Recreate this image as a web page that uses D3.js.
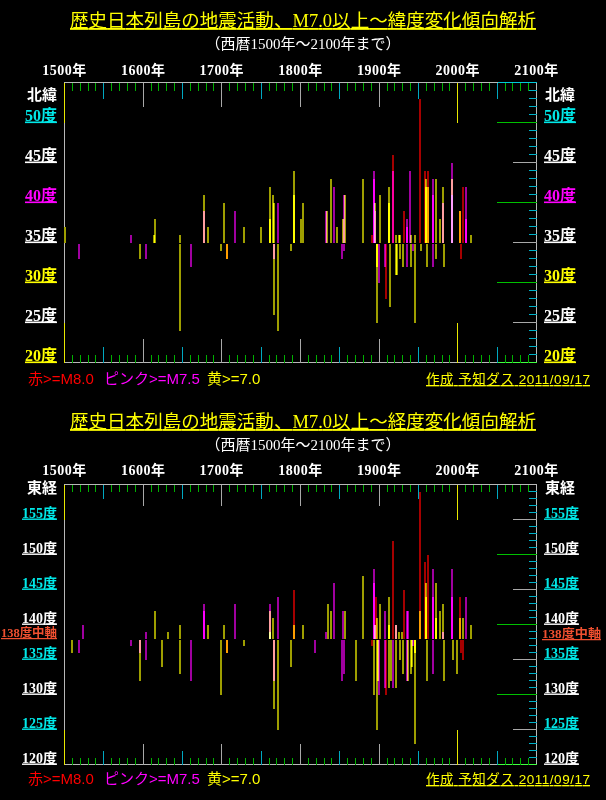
<!DOCTYPE html>
<html><head><meta charset="utf-8">
<script src="https://cdn.jsdelivr.net/npm/d3@7"></script>
<style>
html,body{margin:0;padding:0;background:#000;}
svg{display:block;}
.bar{mix-blend-mode:plus-lighter;}
</style></head>
<body>
<svg id="c" width="606" height="800"></svg>
<script>
// ---------- DATA ----------
const yearTicks = [1500, 1600, 1700, 1800, 1900, 2000, 2100];
const latTickLabels = [50, 45, 40, 35, 30, 25, 20];
const lonTickLabels = [155, 150, 145, 140, 135, 130, 125, 120];

// Panel 1: latitude of M7.0+ quakes (bar from 35 deg to latitude)
const latYears = [1501,1519,1585,1596,1604,1614,1615,1647,1647,1661,1677,1677,1682,1699,1703,1706,1706,1717,1728,1750,
  1761,1761,1765,1766,1766,1766,1771,1771,1788,1792,1792,1792,1801,1803,1833,1834,1839,1843,1847,1853,
  1854,1855,1855,1856,1880,1891,1893,1893,1895,1895,1897,1897,1900,1901,1908,1909,1913,1913,1914,1918,
  1918,1921,1921,1923,1925,1926,1926,1930,1932,1935,1936,1936,1939,1940,1941,1943,1945,1946,1952,1953,
  1958,1960,1960,1961,1962,1962,1968,1968,1968,1968,1972,1972,1977,1981,1981,1983,1993,1993,1993,2003,
  2003,2004,2006,2011,2011,2017];
const latValues = [37,33,36,33,33,36,38,36,24,32,41,39,37,34,40,33,33,39,37,37,
  42,38,41,40,26,33,24,40,34,44,41,39,38,40,39,39,43,42,37,33,
  38,41,34,41,43,36,44,43,39,40,25,32,30,41,32,28,42,40,27,46,
  44,36,31,31,36,36,33,32,39,38,37,32,44,32,36,34,25,36,53,34,
  44,43,42,32,44,42,38,32,41,43,43,33,38,42,40,32,45,43,41,39,
  39,33,42,42,38,36];
const latMags = [7.0,7.5,7.5,7.0,7.5,7.0,7.0,7.0,7.0,7.5,7.0,7.5,7.0,7.0,7.0,8.0,7.0,7.5,7.0,7.0,
  7.0,7.0,7.0,7.0,7.0,7.5,7.0,7.5,7.0,7.0,7.0,8.0,7.0,7.0,7.5,7.0,7.0,7.5,7.0,7.5,
  7.0,7.5,7.5,7.0,7.0,8.0,7.5,7.5,7.5,7.0,7.0,7.0,7.5,7.0,7.5,8.0,7.0,7.0,7.0,8.0,
  7.5,7.0,7.0,7.0,7.0,7.0,7.0,7.0,8.0,7.5,7.5,7.5,7.5,7.0,7.0,7.5,7.0,7.0,8.0,7.0,
  8.0,7.0,7.0,7.0,8.0,7.0,7.5,7.5,7.5,7.5,7.0,7.0,7.0,7.0,7.5,7.0,7.5,7.0,7.5,8.0,
  7.0,8.0,8.0,7.5,7.5,7.0];

// Panel 2: longitude of M7.0+ quakes (bar from 138 deg to longitude)
const lonYears = [1509,1519,1524,1585,1596,1596,1604,1604,1615,1624,1632,1647,1647,1661,1677,1677,1682,1699,1703,1706,
  1706,1717,1728,1761,1761,1761,1765,1766,1766,1771,1771,1788,1792,1792,1803,1818,1833,1835,1839,1843,
  1853,1854,1855,1856,1871,1880,1891,1893,1893,1894,1895,1895,1896,1897,1897,1899,1900,1901,1908,1908,
  1909,1913,1913,1913,1915,1918,1918,1921,1922,1922,1925,1926,1929,1930,1932,1935,1935,1937,1937,1940,
  1942,1943,1945,1945,1946,1952,1952,1958,1960,1960,1961,1962,1968,1968,1968,1972,1972,1977,1981,1981,
  1983,1993,1993,1994,1999,2003,2003,2004,2006,2006,2011,2017];
const lonValues = [136,136,140,137,136,132,139,135,142,134,139,140,133,132,143,142,140,130,140,136,
  136,143,137,143,142,139,141,128,132,125,144,134,145,140,140,136,139,143,142,146,
  132,142,133,142,132,147,137,148,146,130,140,140,144,125,141,132,130,143,142,131,
  130,140,144,131,132,152,131,140,140,131,139,135,139,133,145,142,132,142,132,133,
  134,137,123,136,136,159,142,149,146,144,132,150,133,144,148,141,146,142,143,139,
  132,148,144,135,133,141,144,136,135,141,144,140];
const lonMags = [7.0,7.5,7.5,7.5,7.5,7.0,7.5,7.5,7.0,7.0,7.0,7.0,7.0,7.5,7.5,7.5,7.0,7.0,7.0,8.0,
  7.0,7.5,7.0,7.5,7.0,7.0,7.0,7.0,7.5,7.0,7.5,7.0,8.0,7.0,7.0,7.5,7.5,7.0,7.0,7.5,
  7.5,7.5,7.5,7.0,7.0,7.0,8.0,7.5,7.5,7.0,7.5,7.0,8.0,7.0,7.0,7.0,7.5,7.0,7.5,7.5,
  8.0,7.0,7.0,7.0,7.0,8.0,7.5,7.5,7.0,7.0,7.0,7.0,7.0,7.0,8.0,7.5,7.5,7.5,7.0,7.0,
  7.0,7.5,7.0,7.0,7.0,8.0,7.0,8.0,7.0,7.0,7.0,8.0,7.5,7.5,7.5,7.0,7.0,7.0,7.0,7.5,
  7.0,7.5,7.5,7.0,7.0,7.0,8.0,8.0,8.0,7.0,7.5,7.0];

// ---------- DRAW ----------
const svg = d3.select("#c");
svg.append("rect").attr("width", 606).attr("height", 800).attr("fill", "#000");

const xs = d3.scaleLinear().domain([1500, 2100]).range([64.5, 536.5]);
const CJK = "'Liberation Serif','Noto Sans CJK JP',serif";
const SANS = "'Liberation Sans','Noto Sans CJK JP',sans-serif";
const magColor = m => m >= 8.0 ? "rgb(165,0,0)" : m >= 7.5 ? "rgb(160,0,160)" : "rgb(158,158,0)";

function drawPanel(p) {
  const g = svg.append("g");
  const ys = d3.scaleLinear().domain([p.lo, p.hi]).range([p.top + (p.hi - p.lo) * p.unit, p.top]);
  const bottom = ys(p.lo);

  // title & subtitle
  g.append("text").attr("x", 303).attr("y", p.titleY).attr("text-anchor", "middle")
    .attr("fill", "#ffff00").attr("font-family", CJK).attr("font-size", 18.5)
    .attr("textLength", 466).attr("lengthAdjust", "spacing")
    .style("text-decoration", "underline").text(p.title);
  g.append("text").attr("x", 303).attr("y", p.titleY + 22).attr("text-anchor", "middle")
    .attr("fill", "#ffffff").attr("font-family", CJK).attr("font-size", 15)
    .text("（西暦1500年～2100年まで）");

  // year labels
  g.selectAll(".yl").data(yearTicks).enter().append("text")
    .attr("x", d => xs(d)).attr("y", p.yearY).attr("text-anchor", "middle")
    .attr("fill", "#ffffff").attr("font-family", CJK).attr("font-size", 14).attr("font-weight", "bold")
    .attr("letter-spacing", 0.5)
    .text(d => d + "年");

  // frame
  g.append("rect").attr("x", 64.5).attr("y", p.top).attr("width", 472).attr("height", bottom - p.top)
    .attr("fill", "none").attr("stroke", "#b8b8b8").attr("shape-rendering", "crispEdges");
  if (p.topCyan) {
    g.append("line").attr("x1", Math.floor(xs(2050)) + 0.5).attr("x2", 536.5).attr("y1", p.top).attr("y2", p.top)
      .attr("stroke", "#00c8d8").attr("shape-rendering", "crispEdges");
  }
  g.append("line").attr("x1", Math.floor(xs(2050)) + 0.5).attr("x2", 536.5).attr("y1", bottom).attr("y2", bottom)
    .attr("stroke", "#40ff40").attr("stroke-width", 1.5).attr("shape-rendering", "crispEdges");

  // year ticks at top and bottom
  const decades = d3.range(1500, 2100, 10);
  const tk = yr => yr % 500 === 0 ? [5, "#e8e800"] : yr % 100 === 0 ? [3, "#a8a8a8"] : yr % 50 === 0 ? [2, "#00a8c0"] : [1, "#00b000"];
  decades.forEach(yr => {
    const [n, col] = tk(yr);
    const L = n * p.unit;
    const x = Math.floor(xs(yr)) + 0.5;
    g.append("line").attr("x1", x).attr("x2", x).attr("y1", p.top).attr("y2", p.top + L)
      .attr("stroke", col).attr("shape-rendering", "crispEdges");
    g.append("line").attr("x1", x).attr("x2", x).attr("y1", bottom - L).attr("y2", bottom)
      .attr("stroke", col).attr("shape-rendering", "crispEdges");
  });

  // degree ticks on the right edge
  const decUnit = xs(1510) - xs(1500);
  d3.range(p.lo + 1, p.hi).forEach(d => {
    const [n, col] = d % 10 === 0 ? [5, "#00c000"] : d % 5 === 0 ? [3, "#a8a8a8"] : [1, "#00b0c8"];
    const y = Math.floor(ys(d)) + 0.5;
    g.append("line").attr("x1", 536.5 - n * decUnit).attr("x2", 536.5).attr("y1", y).attr("y2", y)
      .attr("stroke", col).attr("stroke-width", n === 1 ? 1 : 1.5).attr("shape-rendering", "crispEdges");
  });

  // degree labels (left and right)
  const lab = g.selectAll(".dl").data(p.labels).enter();
  lab.append("text").attr("x", 57).attr("y", d => ys(d) - 2).attr("text-anchor", "end")
    .attr("fill", d => p.labelColor(d)).attr("font-family", CJK).attr("font-size", p.labelSize).attr("font-weight", "bold")
    .style("text-decoration", "underline").text(d => d + "度");
  lab.append("text").attr("x", 544).attr("y", d => ys(d) - 2).attr("text-anchor", "start")
    .attr("fill", d => p.labelColor(d)).attr("font-family", CJK).attr("font-size", p.labelSize).attr("font-weight", "bold")
    .style("text-decoration", "underline").text(d => d + "度");

  // axis name
  g.append("text").attr("x", 57).attr("y", p.nameY).attr("text-anchor", "end").attr("fill", "#fff")
    .attr("font-family", CJK).attr("font-size", 15).attr("font-weight", "bold").text(p.name);
  g.append("text").attr("x", 545).attr("y", p.nameY).attr("text-anchor", "start").attr("fill", "#fff")
    .attr("font-family", CJK).attr("font-size", 15).attr("font-weight", "bold").text(p.name);

  if (p.axisLabel) {
    g.append("text").attr("x", 1).attr("y", ys(p.base) - 1.5).attr("text-anchor", "start").attr("fill", "#f05030")
      .attr("font-family", CJK).attr("font-size", 12).attr("font-weight", "bold")
      .attr("textLength", 56).attr("lengthAdjust", "spacingAndGlyphs")
      .style("text-decoration", "underline").text(p.axisLabel);
    g.append("text").attr("x", 542).attr("y", ys(p.base) - 0.5).attr("text-anchor", "start").attr("fill", "#f05030")
      .attr("font-family", CJK).attr("font-size", 12.5).attr("font-weight", "bold")
      .attr("textLength", 59).attr("lengthAdjust", "spacingAndGlyphs")
      .style("text-decoration", "underline").text(p.axisLabel);
  }

  // bars
  const bars = p.years.map((y, i) => ({ year: y, v: p.vals[i], m: p.mags[i] }));
  const bg = g.append("g").style("isolation", "isolate");
  const yb = Math.round(ys(p.base));
  bg.selectAll("rect.bar").data(bars).enter().append("rect").attr("class", "bar")
    .attr("x", d => Math.round(xs(d.year)) - 1).attr("width", 2)
    .attr("y", d => d.v >= p.base ? Math.round(ys(d.v)) : yb + 1)
    .attr("height", d => d.v >= p.base ? yb - Math.round(ys(d.v)) : Math.round(ys(d.v)) - yb - 1)
    .attr("fill", d => magColor(d.m)).attr("shape-rendering", "crispEdges");

  // legend
  const ly = p.legendY;
  g.append("text").attr("x", 28).attr("y", ly).attr("fill", "#ff0000").attr("font-family", SANS).attr("font-size", 15).text("赤>=M8.0");
  g.append("text").attr("x", 104).attr("y", ly).attr("fill", "#ff00ff").attr("font-family", SANS).attr("font-size", 15).text("ピンク>=M7.5");
  g.append("text").attr("x", 207).attr("y", ly).attr("fill", "#ffff00").attr("font-family", SANS).attr("font-size", 15).text("黄>=7.0");
  g.append("text").attr("x", 426).attr("y", ly).attr("fill", "#ffff00").attr("font-family", SANS).attr("font-size", 13.5)
    .attr("textLength", 164).attr("lengthAdjust", "spacing")
    .style("text-decoration", "underline").text("作成  予知ダス  2011/09/17");
}

const latColor = d => d === 50 ? "#00e8e8" : d === 40 ? "#ff00ff" : (d === 30 || d === 20) ? "#ffff00" : "#ffffff";
const lonColor = d => d % 10 === 5 ? "#00e8e8" : "#ffffff";

drawPanel({
  top: 82.5, lo: 20, hi: 55, base: 35, unit: 8,
  title: "歴史日本列島の地震活動、M7.0以上～緯度変化傾向解析",
  titleY: 27, yearY: 75, nameY: 100, legendY: 384,
  labels: latTickLabels, labelColor: latColor, labelSize: 16,
  name: "北緯", topCyan: true,
  years: latYears, vals: latValues, mags: latMags
});
drawPanel({
  top: 484.5, lo: 120, hi: 160, base: 138, unit: 7,
  title: "歴史日本列島の地震活動、M7.0以上～経度変化傾向解析",
  titleY: 428, yearY: 475, nameY: 493, legendY: 784,
  labels: lonTickLabels, labelColor: lonColor, labelSize: 14,
  name: "東経", axisLabel: "138度中軸", topCyan: false,
  years: lonYears, vals: lonValues, mags: lonMags
});
</script>
</body></html>
